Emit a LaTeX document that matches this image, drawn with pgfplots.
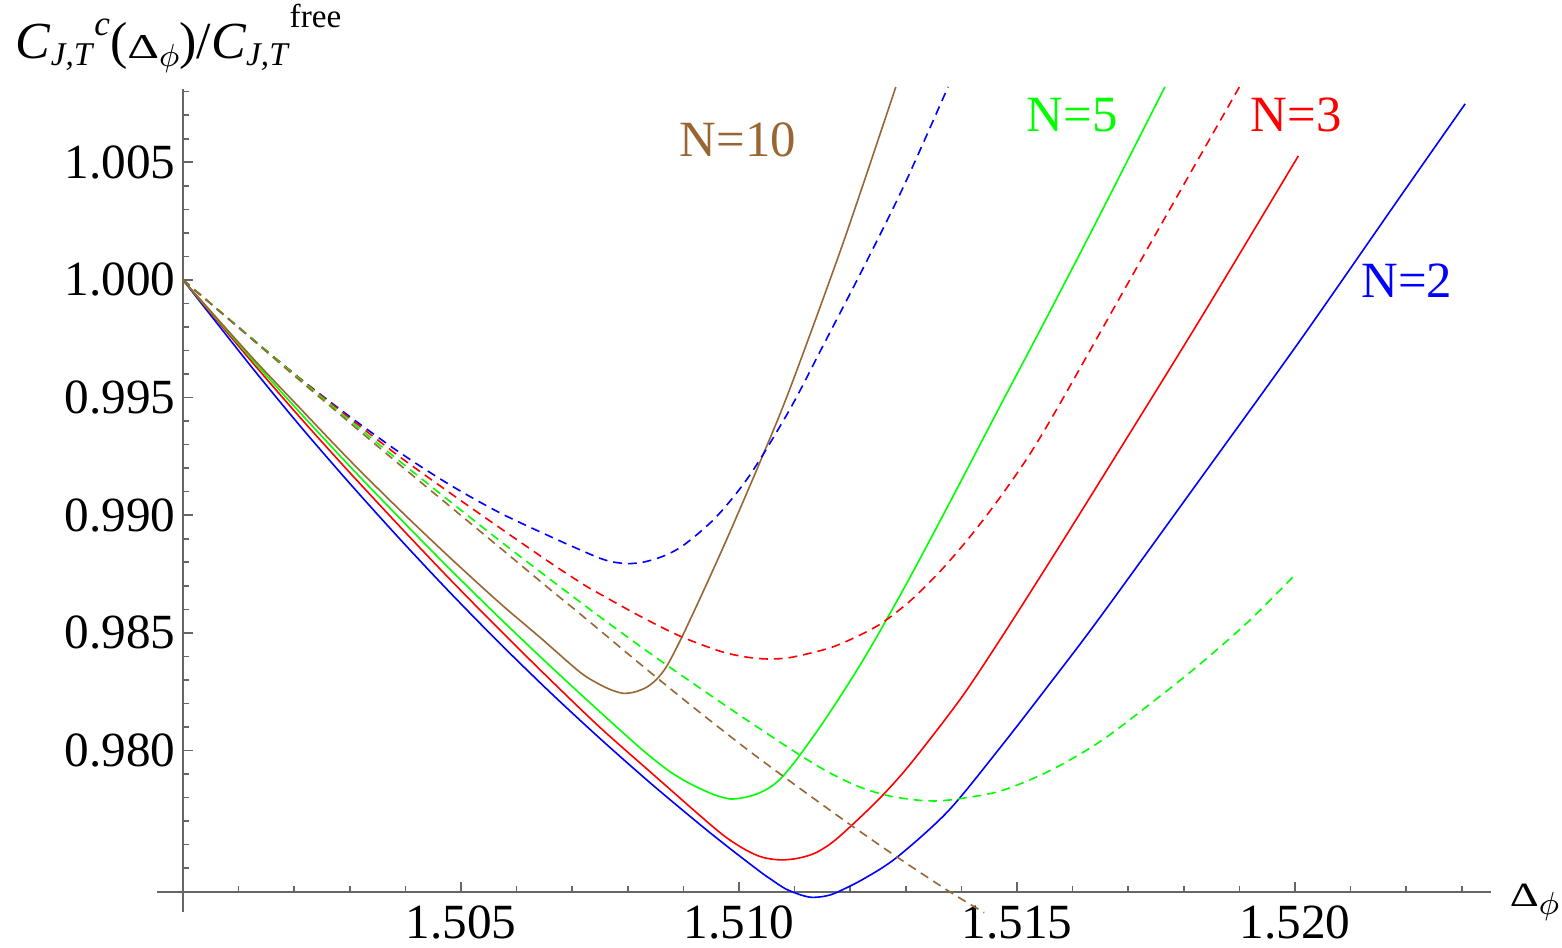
\documentclass[border=0pt]{standalone}
\usepackage{fontspec}
\setmainfont{Liberation Serif}
\usepackage{pgfplots}
\pgfplotsset{compat=1.18}
\definecolor{mblue}{rgb}{0,0,1}
\definecolor{mred}{rgb}{1,0,0}
\definecolor{mgreen}{rgb}{0,1,0}
\definecolor{mbrown}{rgb}{0.6,0.4,0.2}
\definecolor{axgray}{gray}{0.4}
\newcommand{\tl}[1]{\textrm{\fontsize{12.3}{14}\selectfont #1}}
\begin{document}
\begin{tikzpicture}
\begin{axis}[
  scale only axis, width=327pt, height=200.65pt,
  xmin=1.5, xmax=1.523525, ymin=0.974, ymax=1.00811,
  axis x line=bottom, axis y line=left,
  axis line style={-, axgray, line width=0.45pt},
  x axis line style={shorten <=-6.5pt},
  y axis line style={shorten <=-5pt},
  clip=false,
  tick align=inside,
  tick style={axgray, line width=0.4pt},
  major tick length=2.4pt, minor tick length=1.4pt,
  xtick={1.505,1.51,1.515,1.52},
  xticklabels={\tl{1.505},\tl{1.510},\tl{1.515},\tl{1.520}},
  minor xtick={1.501,1.502,1.503,1.504,1.506,1.507,1.508,1.509,1.511,1.512,1.513,1.514,1.516,1.517,1.518,1.519,1.521,1.522,1.523},
  ytick={0.98,0.985,0.99,0.995,1.0,1.005},
  yticklabels={\tl{0.980},\tl{0.985},\tl{0.990},\tl{0.995},\tl{1.000},\tl{1.005}},
  minor ytick={0.975,0.976,0.977,0.978,0.979,0.981,0.982,0.983,0.984,0.986,0.987,0.988,0.989,0.991,0.992,0.993,0.994,0.996,0.997,0.998,0.999,1.001,1.002,1.003,1.004,1.006,1.007,1.008},
  tick label style={font=\rmfamily\fontsize{12.3}{14}\selectfont, text=black},
  /pgf/number format/assume math mode=true,
  yticklabel style={xshift=1.6pt},
  every axis plot/.append style={line width=0.4pt},
]
% N=2 solid
\addplot[mblue, smooth] coordinates {
(1.50000,1.00000) (1.50121,0.99637) (1.50210,0.99381) (1.50300,0.99135) (1.50390,0.98899)
(1.50480,0.98672) (1.50570,0.98455) (1.50660,0.98248) (1.50750,0.98051) (1.50840,0.97863)
(1.50930,0.97685) (1.50984,0.97583) (1.51038,0.97485) (1.51056,0.97455) (1.51083,0.97413)
(1.51110,0.97387) (1.51131,0.97376) (1.51155,0.97381) (1.51176,0.97397) (1.51224,0.97454)
(1.51284,0.97546) (1.51376,0.97742) (1.51469,0.98010) (1.51559,0.98284) (1.51649,0.98565)
(1.51829,0.99152) (1.52009,0.99742) (1.52189,1.00353) (1.52306,1.00748)};
% N=3 solid
\addplot[mred, smooth] coordinates {
(1.50000,1.00000) (1.50121,0.99660) (1.50210,0.99417) (1.50300,0.99181) (1.50390,0.98952)
(1.50480,0.98728) (1.50570,0.98512) (1.50660,0.98302) (1.50750,0.98098) (1.50840,0.97910)
(1.50930,0.97723) (1.50975,0.97634) (1.51011,0.97579) (1.51041,0.97547) (1.51074,0.97535)
(1.51106,0.97542) (1.51137,0.97564) (1.51167,0.97608) (1.51200,0.97676) (1.51254,0.97799)
(1.51308,0.97942) (1.51398,0.98218) (1.51469,0.98469) (1.51559,0.98803) (1.51649,0.99143)
(1.51829,0.99831) (1.52006,1.00527)};
% N=5 solid
\addplot[mgreen, smooth] coordinates {
(1.50000,1.00000) (1.50121,0.99671) (1.50210,0.99437) (1.50300,0.99208) (1.50390,0.98987)
(1.50480,0.98771) (1.50570,0.98562) (1.50660,0.98360) (1.50750,0.98164) (1.50828,0.97999)
(1.50876,0.97910) (1.50912,0.97859) (1.50948,0.97819) (1.50966,0.97804) (1.50984,0.97794)
(1.51002,0.97797) (1.51020,0.97806) (1.51038,0.97821) (1.51056,0.97844) (1.51074,0.97878)
(1.51092,0.97927) (1.51110,0.97982) (1.51146,0.98101) (1.51182,0.98229) (1.51218,0.98364)
(1.51254,0.98509) (1.51308,0.98738) (1.51380,0.99058) (1.51469,0.99461) (1.51559,0.99865)
(1.51649,1.00276) (1.51766,1.00820)};
% N=10 solid
\addplot[mbrown, smooth] coordinates {
(1.50000,1.00000) (1.50121,0.99679) (1.50210,0.99456) (1.50300,0.99233) (1.50390,0.99022)
(1.50480,0.98820) (1.50570,0.98626) (1.50642,0.98481) (1.50714,0.98333) (1.50750,0.98280)
(1.50772,0.98256) (1.50792,0.98243) (1.50813,0.98249) (1.50834,0.98269) (1.50852,0.98303)
(1.50870,0.98358) (1.50894,0.98466) (1.50924,0.98616) (1.50954,0.98771) (1.50984,0.98930)
(1.51038,0.99227) (1.51092,0.99540) (1.51188,1.00162) (1.51282,1.00820)};
% N=2 dashed
\addplot[mblue, smooth, dash pattern=on 2.2pt off 1.5pt] coordinates {
(1.50000,1.00000) (1.50121,0.99757) (1.50210,0.99582) (1.50300,0.99419) (1.50390,0.99266)
(1.50480,0.99129) (1.50570,0.99010) (1.50660,0.98910) (1.50714,0.98853) (1.50750,0.98817)
(1.50772,0.98802) (1.50800,0.98794) (1.50831,0.98802) (1.50867,0.98829) (1.50903,0.98877)
(1.50960,0.98995) (1.51020,0.99172) (1.51092,0.99452) (1.51152,0.99724) (1.51224,1.00053)
(1.51296,1.00397) (1.51376,1.00820)};
% N=3 dashed
\addplot[mred, smooth, dash pattern=on 2.2pt off 1.5pt] coordinates {
(1.50000,1.00000) (1.50121,0.99756) (1.50210,0.99582) (1.50300,0.99412) (1.50390,0.99248)
(1.50480,0.99095) (1.50570,0.98946) (1.50660,0.98799) (1.50720,0.98706) (1.50750,0.98665)
(1.50822,0.98571) (1.50894,0.98486) (1.50966,0.98422) (1.51011,0.98398) (1.51050,0.98389)
(1.51092,0.98395) (1.51158,0.98432) (1.51200,0.98471) (1.51254,0.98537) (1.51308,0.98636)
(1.51362,0.98762) (1.51416,0.98910) (1.51469,0.99074) (1.51523,0.99259) (1.51577,0.99473)
(1.51679,0.99900) (1.51793,1.00376) (1.51900,1.00820)};
% N=5 dashed
\addplot[mgreen, smooth, dash pattern=on 2.2pt off 1.5pt] coordinates {
(1.50000,1.00000) (1.50121,0.99757) (1.50210,0.99579) (1.50300,0.99403) (1.50390,0.99229)
(1.50480,0.99059) (1.50570,0.98891) (1.50660,0.98728) (1.50750,0.98568) (1.50840,0.98413)
(1.50930,0.98265) (1.51020,0.98120) (1.51110,0.97980) (1.51164,0.97904) (1.51218,0.97844)
(1.51272,0.97806) (1.51332,0.97787) (1.51380,0.97790) (1.51469,0.97827) (1.51559,0.97914)
(1.51649,0.98037) (1.51739,0.98197) (1.51829,0.98367) (1.51919,0.98554) (1.52000,0.98747)};
% N=10 dashed
\addplot[mbrown, smooth, dash pattern=on 2.2pt off 1.5pt] coordinates {
(1.50000,1.00000) (1.50121,0.99754) (1.50210,0.99573) (1.50300,0.99393) (1.50390,0.99214)
(1.50480,0.99038) (1.50570,0.98862) (1.50660,0.98685) (1.50714,0.98581) (1.50840,0.98333)
(1.50930,0.98161) (1.51020,0.97995) (1.51110,0.97838) (1.51200,0.97685) (1.51290,0.97538)
(1.51380,0.97398) (1.51441,0.97311)};
% labels
\node[text=mbrown, inner sep=0, font=\fontsize{12.7}{14}\selectfont] at (axis cs:1.50998,1.005947) {N=10};
\node[text=mgreen, inner sep=0, font=\fontsize{12.7}{14}\selectfont] at (axis cs:1.51599,1.00701) {N=5};
\node[text=mred, inner sep=0, font=\fontsize{12.7}{14}\selectfont] at (axis cs:1.52002,1.00701) {N=3};
\node[text=mblue, inner sep=0, font=\fontsize{12.7}{14}\selectfont] at (axis cs:1.52201,0.99996) {N=2};
\node[anchor=base west, inner sep=0, font=\fontsize{12.5}{14}\selectfont] at (axis cs:1.523849,0.973365)
  {\scalebox{0.9}[0.68]{Δ}\raisebox{-2pt}{\fontsize{8}{9}\selectfont$\phi$}};
\node[anchor=base west, inner sep=0, font=\fontsize{13}{15}\selectfont] at (axis cs:1.496978,1.009388)
  {\textit{C}\raisebox{-1.75pt}{\fontsize{8.3}{9}\selectfont\textit{J,T}}\raisebox{5.75pt}{\fontsize{8.8}{9}\selectfont\textit{c}}(\scalebox{0.95}[0.67]{Δ}\raisebox{-2pt}{\fontsize{7.8}{9}\selectfont$\phi$})/\textit{C}\raisebox{-1.75pt}{\fontsize{8.3}{9}\selectfont\textit{J,T}}\raisebox{7.75pt}{\fontsize{8.3}{9}\selectfont free}};
\coordinate (bbBL) at (axis cs:1.496709,0.971607);
\coordinate (bbTR) at (axis cs:1.524802,1.011896);
\end{axis}
\pgfresetboundingbox
\path[use as bounding box] (bbBL) rectangle (bbTR);
\end{tikzpicture}
\end{document}
